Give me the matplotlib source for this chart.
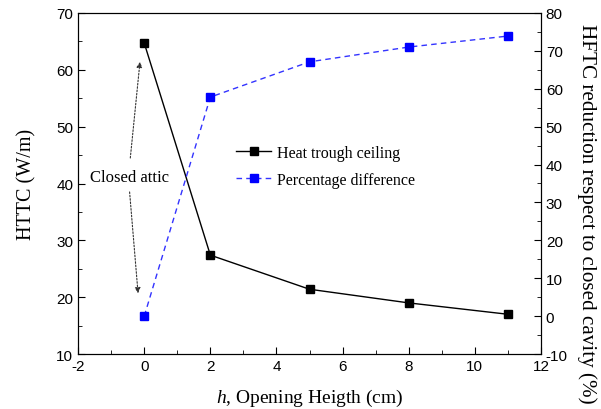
import numpy as np
import matplotlib.pyplot as plt
from matplotlib.ticker import MultipleLocator

h = [0, 2, 5, 8, 11]
httc = [64.7, 27.4, 21.4, 19.0, 17.0]
pct_diff = [0.0, 57.8, 67.1, 71.0, 73.9]

serif = "Liberation Serif"
sans = "Liberation Sans"
plt.rcParams["axes.unicode_minus"] = False
plt.rcParams["mathtext.fontset"] = "custom"
plt.rcParams["mathtext.it"] = "Liberation Serif:italic"
plt.rcParams["mathtext.rm"] = "Liberation Serif"

fig = plt.figure(figsize=(6.01, 4.10), dpi=100)
ax1 = fig.add_axes([0.13, 0.134, 0.77, 0.832])
ax2 = ax1.twinx()

l1, = ax1.plot(h, httc, marker="s", color="black", linestyle="-", linewidth=1,
               markersize=6, label="Heat trough ceiling")
l2, = ax2.plot(h, pct_diff, marker="s", color="#3333ff", linestyle=(0, (4, 3)),
               linewidth=1, markersize=6, label="Percentage difference",
               markerfacecolor="blue", markeredgecolor="blue")

ax1.set_xlim(-2, 12)
ax1.set_ylim(10, 70)
ax2.set_ylim(-10, 80)
ax1.xaxis.set_major_locator(MultipleLocator(2))
ax1.xaxis.set_minor_locator(MultipleLocator(1))
ax1.yaxis.set_major_locator(MultipleLocator(10))
ax1.yaxis.set_minor_locator(MultipleLocator(5))
ax2.yaxis.set_major_locator(MultipleLocator(10))
ax2.yaxis.set_minor_locator(MultipleLocator(5))

for ax in (ax1, ax2):
    ax.tick_params(which="both", direction="in", labelsize=11)
    ax.tick_params(which="major", length=5)
    ax.tick_params(which="minor", length=3)
    for lab in ax.get_xticklabels() + ax.get_yticklabels():
        lab.set_fontfamily(sans)
ax1.tick_params(axis="x", which="both", top=False)
ax2.tick_params(axis="y", which="both", left=False)

ax1.set_xlabel("$\\it{h}$, Opening Heigth (cm)", fontfamily=serif, fontsize=14,
               labelpad=10)
ax1.set_ylabel("HTTC (W/m)", fontfamily=serif, fontsize=14.5, labelpad=14)
fig.text(0.977, 0.478, "HFTC reduction respect to closed cavity (%)",
         fontfamily=serif, fontsize=15.2, rotation=270, ha="center", va="center")

ax1.text(-0.45, 41.1, "Closed attic", fontfamily=serif, fontsize=12,
         ha="center", va="center")
arrow = dict(arrowstyle="-|>", linestyle=(0, (1.5, 1.5)), color="#333333",
             lw=0.8, mutation_scale=8)
ax1.annotate("", xy=(-0.12, 61.9), xytext=(-0.43, 44.0), arrowprops=arrow)
ax1.annotate("", xy=(-0.18, 20.2), xytext=(-0.45, 39.0), arrowprops=arrow)

leg = ax1.legend(handles=[l1, l2], loc="center left", bbox_to_anchor=(0.31, 0.55),
                 frameon=False, prop={"family": serif, "size": 11.5},
                 handlelength=2.2, handletextpad=0.4, labelspacing=0.7)

fig.savefig("out.png", dpi=100)
